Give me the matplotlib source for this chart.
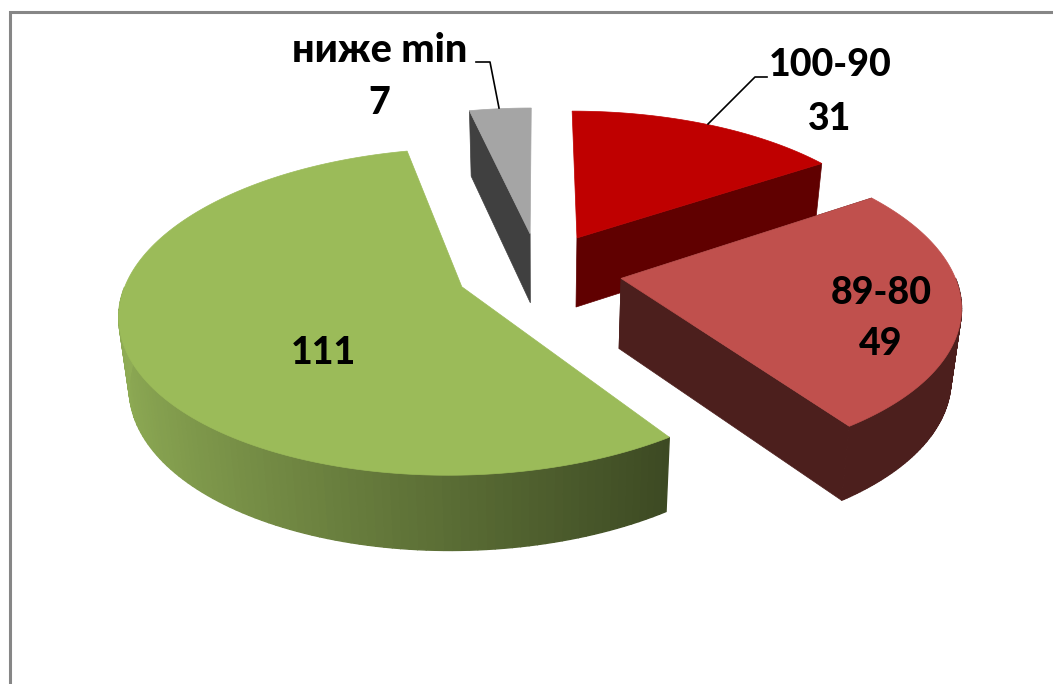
import numpy as np
import matplotlib
matplotlib.use("Agg")
import matplotlib.pyplot as plt
from matplotlib.patches import Polygon
from matplotlib.colors import to_rgb

categories = ["100-90", "89-80", "", "ниже min"]
values = [31, 49, 111, 7]
top_colors = ["#bf0000", "#c0504d", "#9bbb59", "#a5a5a5"]
side_colors = ["#600000", "#4c1f1d", "#3d4a23", "#404040"]

W, H = 1053, 684
CX, CY = 539, 271
A, B, K = 332.0, 155.0, 0.15
DEPTH = 70.0
CONVERGE = 0.025
EXPLODE = 0.25

fig = plt.figure(figsize=(W / 100, H / 100), dpi=100)
ax = fig.add_axes([0, 0, 1, 1])
ax.set_xlim(0, W)
ax.set_ylim(H, 0)
ax.axis("off")


def project(X, Y, z=0.0):
    w = 1 + K * Y
    x = CX + A * X / w
    return x + (CX - x) * CONVERGE * z, CY - B * Y / w + z * DEPTH / w ** 0.4


total = sum(values)
edges = np.concatenate([[0], np.cumsum(values)]) / total * 2 * np.pi
order = [3, 0, 2, 1]  # back-to-front paint order

for i in order:
    a0, a1 = edges[i], edges[i + 1]
    mid = (a0 + a1) / 2
    ox, oy = EXPLODE * np.sin(mid), EXPLODE * np.cos(mid)
    th = np.linspace(a0, a1, 160)
    X, Y = ox + np.sin(th), oy + np.cos(th)

    # outer wall, shaded along its arc
    for j in range(len(th) - 1):
        if np.cos((th[j] + th[j + 1]) / 2) > 0.0:
            continue
        c = np.array(to_rgb(side_colors[i]))
        if i == 2:
            s = np.clip((X[j] - X.min()) / (X.max() - X.min()), 0, 1)
            c = np.array(to_rgb("#8fac55")) * (1 - s) + c * s
        ax.add_patch(Polygon([project(X[j], Y[j]), project(X[j + 1], Y[j + 1]),
                              project(X[j + 1], Y[j + 1], 1), project(X[j], Y[j], 1)],
                             closed=True, fc=c, ec=c, lw=1.0))

    # radial cut faces visible to the viewer
    for ang in (a0, a1):
        visible = (i in (0, 1) and ang == a1) or (i == 1 and ang == a0) or (i == 3 and ang == a0)
        if visible:
            ex, ey = ox + np.sin(ang), oy + np.cos(ang)
            pts = [project(ox, oy), project(ex, ey), project(ex, ey, 1), project(ox, oy, 1)]
            ax.add_patch(Polygon(pts, closed=True, fc=side_colors[i], ec=side_colors[i], lw=0.5))

    # top face
    px, py = project(X, Y)
    cx_, cy_ = project(ox, oy)
    ax.add_patch(Polygon(np.column_stack([np.r_[cx_, px], np.r_[cy_, py]]), closed=True,
                         fc=top_colors[i], ec=top_colors[i], lw=0.5))

# later slices occlude earlier ones
for n, p in enumerate(ax.patches):
    p.set_zorder(n + 1)

# chart frame
ax.plot([9.5, 9.5, W], [H, 11.5, 11.5], color="#868686", lw=2.2, solid_joinstyle="miter", zorder=5000)

# leader lines
ax.plot([476, 490, 499], [62, 62, 108], color="black", lw=1.2, zorder=5000)
ax.plot([767, 755, 708], [77, 77, 124], color="black", lw=1.2, zorder=5000)

font = dict(family="Lato", fontweight=900, color="black",
            ha="center", va="center", zorder=6000)
ax.text(380, 51, categories[3], fontsize=28.5, **font)
ax.text(379, 103, str(values[3]), fontsize=27, **font)
ax.text(830, 65, categories[0], fontsize=27, **font)
ax.text(830, 119, str(values[0]), fontsize=27, **font)
ax.text(881, 293, categories[1], fontsize=27, **font)
ax.text(881, 344, str(values[1]), fontsize=27, **font)
ax.text(323, 353, str(values[2]), fontsize=27, **font)

fig.savefig("out.png", dpi=100)
